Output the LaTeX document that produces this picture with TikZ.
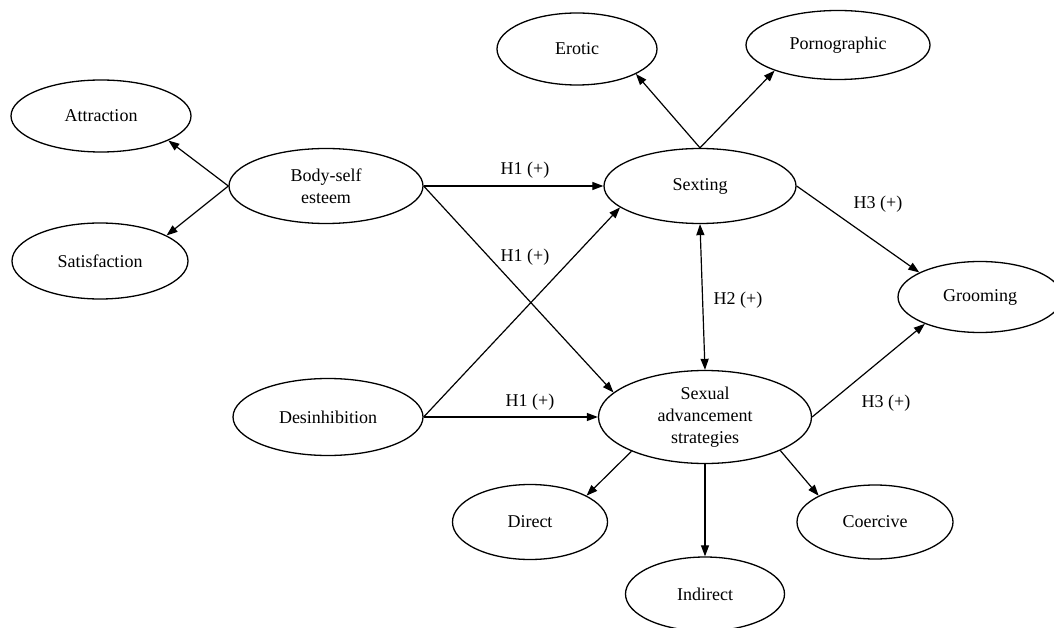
\documentclass[tikz,border=0pt]{standalone}
\usepackage{fontspec}
\setmainfont{Liberation Serif}
\usetikzlibrary{arrows.meta}
\usetikzlibrary{shapes}

\begin{document}
\begin{tikzpicture}
      [x=1pt,y=-1pt,
       constructBox/.style={ellipse,draw=black,line width=1.3pt,inner sep=0pt,align=center,font=\fontsize{18}{22}\selectfont},
       pathArrow/.style={-{Triangle[length=11pt,width=8pt]},line width=1.2pt},
       hypLabel/.style={font=\fontsize{18}{22}\selectfont}]
      \useasboundingbox (0,0) rectangle (1054,628);
      \node[constructBox,minimum width=180pt,minimum height=72pt] (attraction) at (101,116) {Attraction};
      \node[constructBox,minimum width=176pt,minimum height=76pt] (satisfaction) at (100,261) {Satisfaction};
      \node[constructBox,minimum width=194pt,minimum height=75pt] (bodySelf) at (326,186) {Body-self\\esteem};
      \node[constructBox,minimum width=190pt,minimum height=77pt] (desinhibition) at (328,417) {Desinhibition};
      \node[constructBox,minimum width=160pt,minimum height=72pt] (erotic) at (577,49) {Erotic};
      \node[constructBox,minimum width=184pt,minimum height=69pt] (pornographic) at (838,45) {Pornographic};
      \node[constructBox,minimum width=192pt,minimum height=75pt] (sexting) at (700,186) {Sexting};
      \node[constructBox,minimum width=164pt,minimum height=71pt] (grooming) at (980,297) {Grooming};
      \node[constructBox,minimum width=213pt,minimum height=93pt] (sexAdv) at (705,417) {Sexual\\advancement\\strategies};
      \node[constructBox,minimum width=155pt,minimum height=75pt] (direct) at (530,522) {Direct};
      \node[constructBox,minimum width=159pt,minimum height=74pt] (indirect) at (705,594) {Indirect};
      \node[constructBox,minimum width=156pt,minimum height=74pt] (coercive) at (875,522) {Coercive};

      % hypothesis labels
      \node[hypLabel] (hOneTop) at (525,170) {H1 (+)};
      \node[hypLabel] (hOneMid) at (525,257) {H1 (+)};
      \node[hypLabel] (hOneLow) at (530,402) {H1 (+)};
      \node[hypLabel] (hTwo) at (738,300) {H2 (+)};
      \node[hypLabel] (hThreeTop) at (878,204) {H3 (+)};
      \node[hypLabel] (hThreeLow) at (886,403) {H3 (+)};

      % measurement paths
      \draw[pathArrow] (bodySelf.west) -- (attraction.-20);
      \draw[pathArrow] (bodySelf.west) -- (satisfaction.21);
      \draw[pathArrow] (sexting.north) -- (erotic.-23);
      \draw[pathArrow] (sexting.north) -- (pornographic.202);
      \draw[pathArrow] (sexAdv.205) -- (direct.25);
      \draw[pathArrow] (sexAdv.south) -- (indirect.north);
      \draw[pathArrow] (sexAdv.-24) -- (coercive.155);

      % structural paths
      \draw[pathArrow] (bodySelf.east) -- (sexting.west);
      \draw[pathArrow] (bodySelf.east) -- (sexAdv.165);
      \draw[pathArrow] (desinhibition.east) -- (sexting.195);
      \draw[pathArrow] (desinhibition.east) -- (sexAdv.west);
      \draw[pathArrow,{Triangle[length=11pt,width=8pt]}-{Triangle[length=11pt,width=8pt]}] (sexting.south) -- (sexAdv.north);
      \draw[pathArrow] (sexting.east) -- (grooming.158);
      \draw[pathArrow] (sexAdv.east) -- (grooming.206);
    \end{tikzpicture}
\end{document}
